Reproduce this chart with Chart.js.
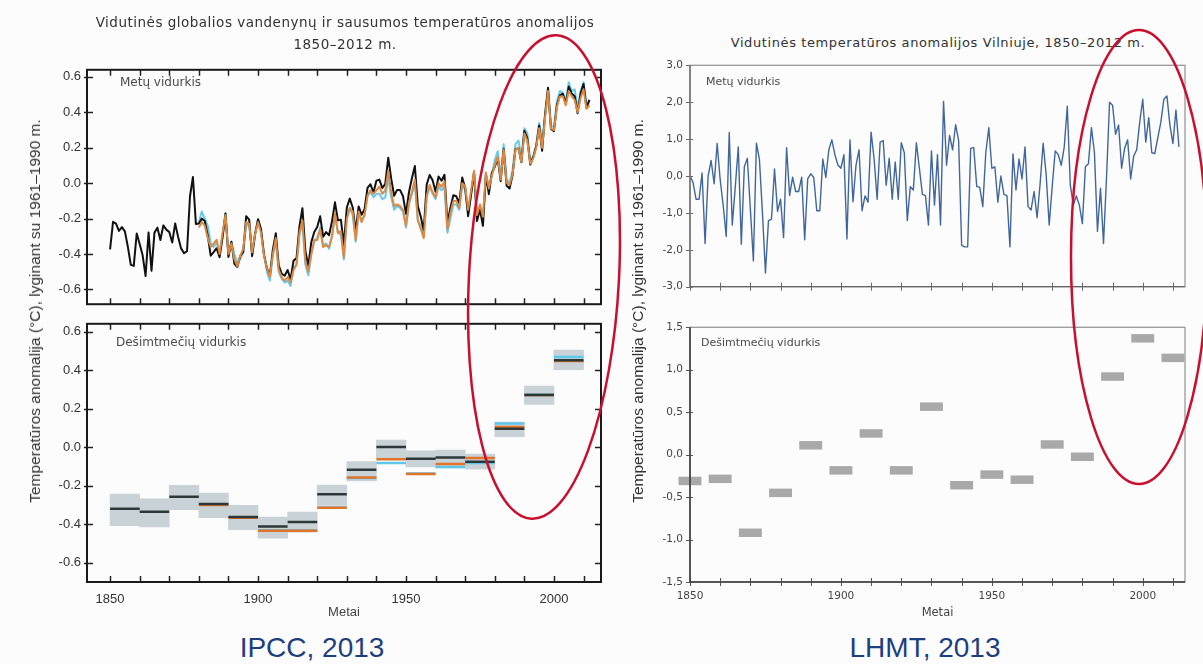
<!DOCTYPE html>
<html><head><meta charset="utf-8">
<script src="https://cdn.jsdelivr.net/npm/chart.js@4.4.0/dist/chart.umd.min.js"></script>
<style>
html,body{margin:0;padding:0;background:#fcfcfc;}
#wrap{position:relative;width:1203px;height:664px;overflow:hidden;background:#fcfcfc;}
canvas{position:absolute;}
.t{position:absolute;white-space:nowrap;}
.ttl{font-family:"DejaVu Sans",sans-serif;color:#333;text-align:center;}
.lab{font-family:"DejaVu Sans",sans-serif;color:#4a4a4a;}
.ylab{font-family:"Liberation Sans",Arial,sans-serif;font-size:15.5px;color:#333;transform:translate(-50%,-50%) rotate(-90deg);}
.cap{font-family:"Liberation Sans",Arial,sans-serif;font-size:28px;color:#1e3f7e;text-align:center;width:400px;line-height:36px;}
</style></head><body><div id="wrap">
<canvas id="lt" width="620" height="262" style="left:0;top:56px;width:620px;height:262px"></canvas>
<canvas id="lb" width="620" height="312" style="left:0;top:310px;width:620px;height:312px"></canvas>
<canvas id="rt" width="563" height="248" style="left:640px;top:52px;width:563px;height:248px"></canvas>
<canvas id="rb" width="563" height="308" style="left:640px;top:314px;width:563px;height:308px"></canvas>

<div class="t ttl" style="left:0;top:11px;width:690px;font-size:13.5px;letter-spacing:0.5px;line-height:22px;">Vidutinės globalios vandenynų ir sausumos temperatūros anomalijos<br>1850–2012 m.</div>
<div class="t ttl" style="left:700px;top:34px;width:476px;font-size:13px;letter-spacing:0.6px;line-height:17px;">Vidutinės temperatūros anomalijos Vilniuje, 1850–2012 m.</div>
<div class="t lab" style="left:120px;top:75px;font-size:12px;">Metų vidurkis</div>
<div class="t lab" style="left:116px;top:335px;font-size:12px;">Dešimtmečių vidurkis</div>
<div class="t lab" style="left:706px;top:75px;font-size:11px;">Metų vidurkis</div>
<div class="t lab" style="left:701px;top:336px;font-size:11px;">Dešimtmečių vidurkis</div>
<div class="t ylab" style="left:35px;top:311px;">Temperatūros anomalija (°C), lyginant su 1961–1990 m.</div>
<div class="t ylab" style="left:638px;top:311px;">Temperatūros anomalija (°C), lyginant su 1961–1990 m.</div>
<div class="t cap" style="left:112px;top:630px;">IPCC, 2013</div>
<div class="t cap" style="left:725px;top:630px;">LHMT, 2013</div>

<svg style="position:absolute;left:0;top:0" width="1203" height="664">
<ellipse cx="544" cy="277" rx="75" ry="242" transform="rotate(3 544 277)" fill="none" stroke="#c8102e" stroke-width="2.5"/>
<ellipse cx="1139" cy="257" rx="68" ry="227" fill="none" stroke="#c8102e" stroke-width="2.5"/>
</svg>
</div>
<script>
// ---------- DATA ----------
const globalStartYear = 1850;
const hadcrutAnnual = [
-0.373,-0.218,-0.228,-0.269,-0.248,-0.272,-0.358,-0.461,-0.467,-0.284,
-0.343,-0.407,-0.524,-0.278,-0.494,-0.279,-0.251,-0.321,-0.238,-0.262,
-0.276,-0.335,-0.227,-0.304,-0.368,-0.395,-0.384,-0.075,0.035,-0.230,
-0.227,-0.200,-0.213,-0.296,-0.409,-0.389,-0.367,-0.418,-0.307,-0.171,
-0.416,-0.330,-0.455,-0.473,-0.410,-0.390,-0.186,-0.206,-0.412,-0.289,
-0.203,-0.259,-0.402,-0.479,-0.520,-0.377,-0.283,-0.465,-0.511,-0.522,
-0.490,-0.544,-0.437,-0.424,-0.244,-0.141,-0.383,-0.468,-0.333,-0.275,
-0.247,-0.187,-0.302,-0.276,-0.294,-0.215,-0.108,-0.210,-0.206,-0.350,
-0.137,-0.087,-0.137,-0.273,-0.131,-0.178,-0.147,-0.026,-0.006,-0.052,
0.014,0.020,-0.027,-0.004,0.144,0.025,-0.071,-0.038,-0.039,-0.074,
-0.173,-0.052,0.028,0.097,-0.129,-0.190,-0.267,-0.007,0.046,0.017,
-0.049,0.038,0.014,0.048,-0.223,-0.140,-0.068,-0.074,-0.113,0.032,
-0.027,-0.186,-0.065,0.062,-0.214,-0.149,-0.241,0.047,-0.062,0.057,
0.092,0.140,0.011,0.194,-0.014,-0.030,0.045,0.192,0.198,0.118,
0.296,0.254,0.105,0.148,0.208,0.325,0.183,0.390,0.539,0.306,
0.294,0.441,0.496,0.505,0.447,0.545,0.506,0.491,0.395,0.506,
0.560,0.425,0.470];
const otherStartYear = 1880;
const mlostAnnual = [
-0.25,-0.22,-0.24,-0.31,-0.36,-0.34,-0.32,-0.40,-0.28,-0.18,
-0.40,-0.34,-0.43,-0.47,-0.41,-0.37,-0.22,-0.23,-0.39,-0.29,
-0.22,-0.28,-0.41,-0.48,-0.53,-0.40,-0.31,-0.49,-0.53,-0.55,
-0.53,-0.56,-0.49,-0.46,-0.28,-0.21,-0.44,-0.50,-0.40,-0.32,
-0.32,-0.26,-0.36,-0.35,-0.36,-0.30,-0.17,-0.28,-0.27,-0.42,
-0.20,-0.14,-0.16,-0.32,-0.16,-0.22,-0.18,-0.07,-0.04,-0.06,
-0.04,-0.02,-0.06,-0.04,0.07,-0.05,-0.13,-0.12,-0.13,-0.15,
-0.24,-0.11,-0.05,0.02,-0.21,-0.26,-0.31,-0.07,-0.01,-0.05,
-0.08,0.00,-0.02,0.01,-0.26,-0.17,-0.10,-0.10,-0.14,0.00,
-0.02,-0.15,-0.04,0.07,-0.18,-0.12,-0.19,0.06,-0.03,0.04,
0.10,0.15,0.02,0.19,0.00,-0.01,0.05,0.19,0.20,0.12,
0.28,0.24,0.11,0.14,0.20,0.31,0.20,0.37,0.52,0.31,
0.30,0.43,0.49,0.49,0.44,0.52,0.49,0.47,0.40,0.48,
0.53,0.42,0.44];
const gissAnnual = [
-0.22,-0.16,-0.20,-0.24,-0.34,-0.36,-0.33,-0.40,-0.30,-0.17,
-0.41,-0.33,-0.40,-0.45,-0.43,-0.38,-0.24,-0.23,-0.40,-0.28,
-0.21,-0.27,-0.40,-0.50,-0.55,-0.41,-0.33,-0.50,-0.54,-0.56,
-0.55,-0.58,-0.48,-0.46,-0.29,-0.23,-0.46,-0.52,-0.40,-0.33,
-0.31,-0.25,-0.35,-0.34,-0.37,-0.30,-0.18,-0.28,-0.29,-0.43,
-0.20,-0.14,-0.18,-0.33,-0.17,-0.21,-0.18,-0.07,-0.05,-0.08,
-0.06,-0.06,-0.09,-0.08,0.03,-0.08,-0.15,-0.13,-0.14,-0.16,
-0.25,-0.12,-0.06,0.00,-0.21,-0.24,-0.30,-0.08,-0.02,-0.06,
-0.09,-0.02,-0.04,-0.02,-0.28,-0.20,-0.12,-0.12,-0.15,-0.01,
-0.04,-0.16,-0.06,0.06,-0.19,-0.13,-0.20,0.05,-0.02,0.05,
0.13,0.18,0.03,0.22,0.02,0.00,0.07,0.22,0.24,0.15,
0.31,0.28,0.13,0.15,0.21,0.34,0.24,0.38,0.52,0.32,
0.32,0.46,0.52,0.51,0.46,0.57,0.52,0.53,0.42,0.52,
0.57,0.44,0.47];

const decadeStarts = [1850,1860,1870,1880,1890,1900,1910,1920,1930,1940,1950,1960,1970,1980,1990,2000];
const decHadcrut = [-0.320,-0.336,-0.258,-0.295,-0.363,-0.412,-0.388,-0.244,-0.117,0.000,-0.061,-0.054,-0.076,0.095,0.271,0.451];
const decMlost   = [null,null,null,-0.300,-0.366,-0.434,-0.434,-0.315,-0.158,-0.063,-0.139,-0.087,-0.056,0.104,0.270,0.447];
const decGiss    = [null,null,null,-0.298,-0.365,-0.432,-0.432,-0.313,-0.160,-0.083,-0.137,-0.103,-0.082,0.122,0.273,0.468];
const decLow     = [-0.408,-0.414,-0.324,-0.366,-0.429,-0.473,-0.442,-0.302,-0.176,-0.061,-0.103,-0.108,-0.115,0.054,0.222,0.402];
const decHigh    = [-0.244,-0.268,-0.198,-0.239,-0.302,-0.363,-0.337,-0.197,-0.075,0.037,-0.019,-0.015,-0.036,0.130,0.317,0.503];

const vilniusStartYear = 1850;
const vilniusAnnual = [
0.0,-0.17,-0.63,-0.63,0.08,-1.83,0.0,0.42,-0.21,0.88,
-0.1,-0.8,-1.64,1.18,-1.33,-0.3,0.79,-1.85,0.25,0.48,
-0.9,-2.3,0.89,0.45,-1.0,-2.63,-1.21,-1.17,0.19,-0.96,
-0.63,-1.67,0.77,-0.53,-0.03,-0.42,-0.42,-0.03,-1.73,-0.08,
0.06,-0.04,-0.94,-0.94,0.46,-0.04,0.71,0.98,0.58,0.3,
0.21,0.58,-1.71,0.98,-0.7,0.29,0.71,-0.94,-0.54,-0.71,
1.19,0.46,-0.63,0.92,0.96,-0.25,0.48,-0.63,0.38,-0.63,
0.9,0.63,-1.21,-0.29,-0.38,0.9,0.21,-0.5,-0.53,-1.33,
0.68,-0.79,0.58,-1.33,2.02,0.29,1.1,0.71,1.39,0.96,
-1.88,-1.92,-1.92,0.75,0.77,-0.28,-0.31,-0.83,0.63,1.31,
0.21,0.25,-0.71,0.0,-0.5,-0.53,-1.92,0.6,-0.38,0.46,
-0.08,0.79,-0.83,-0.92,-0.42,-1.13,-0.21,0.89,0.04,-1.33,
-0.29,0.68,0.58,0.29,0.79,1.89,-0.25,-0.79,-0.54,-0.79,
-1.29,0.25,0.33,1.31,0.63,-1.5,-0.33,-1.83,-0.04,2.0,
1.92,1.13,1.38,0.21,0.75,0.98,-0.08,0.54,0.71,1.46,
2.08,0.92,1.58,0.63,0.61,1.04,1.46,2.08,2.17,1.38,
0.88,1.79,0.79];
const vilniusDecadeYears = [1850,1860,1870,1880,1890,1900,1910,1920,1930,1940,1950,1960,1970,1980,1990,2000,2010];
const vilniusDecadal = [-0.31,-0.285,-0.92,-0.45,0.11,-0.185,0.25,-0.185,0.565,-0.36,-0.235,-0.295,0.12,-0.025,0.92,1.37,1.14];

const leftYTicks = [-0.6,-0.4,-0.2,0,0.2,0.4,0.6];
const rightTopYTicks = [-3,-2,-1,0,1,2,3];
const rightBottomYTicks = [-1.5,-1,-0.5,0,0.5,1,1.5];
const xLabelTicks = [1850,1900,1950,2000];
const xMinorTicks = [1850,1860,1870,1880,1890,1900,1910,1920,1930,1940,1950,1960,1970,1980,1990,2000,2010];

// ---------- HELPERS ----------
const series = (start, vals) => vals.map((v, i) => ({x: start + i, y: v}));
function decadeSegments(starts, vals) {
  const out = [];
  starts.forEach((d, i) => {
    if (vals[i] === null) return;
    out.push({x: d, y: vals[i]}, {x: d + 10, y: vals[i]}, {x: d + 10, y: null});
  });
  return out;
}
const BAR_HALF = 0.05;

function framePlugin(cfg) {
  return {
    id: 'frame',
    afterDraw(chart) {
      const {ctx, chartArea: a, scales} = chart;
      const x = scales.x, y = scales.y;
      ctx.save();
      ctx.strokeStyle = cfg.tickColor; ctx.lineWidth = cfg.tickWidth;
      ctx.beginPath();
      const s = cfg.sides;
      for (const v of xMinorTicks) {
        const px = Math.round(x.getPixelForValue(v)) + 0.5;
        if (s.top) { ctx.moveTo(px, a.top - s.top[1]); ctx.lineTo(px, a.top + s.top[0]); }
        if (s.bottom) { ctx.moveTo(px, a.bottom + s.bottom[1]); ctx.lineTo(px, a.bottom - s.bottom[0]); }
      }
      for (const v of cfg.yTicks) {
        const py = Math.round(y.getPixelForValue(v)) + 0.5;
        if (s.left) { ctx.moveTo(a.left - s.left[1], py); ctx.lineTo(a.left + s.left[0], py); }
        if (s.right) { ctx.moveTo(a.right + s.right[1], py); ctx.lineTo(a.right - s.right[0], py); }
      }
      ctx.stroke();
      ctx.strokeStyle = cfg.frameColor; ctx.lineWidth = cfg.frameWidth;
      ctx.strokeRect(a.left, a.top, a.right - a.left, a.bottom - a.top);
      if (cfg.axisColor) {
        ctx.strokeStyle = cfg.axisColor; ctx.lineWidth = cfg.axisWidth;
        ctx.beginPath();
        ctx.moveTo(a.left, a.top); ctx.lineTo(a.left, a.bottom); ctx.lineTo(a.right, a.bottom);
        ctx.stroke();
      }
      ctx.restore();
    }
  };
}

function yScale(ticks, min, max, width, fmt, font, color, pad) {
  return {
    type: 'linear', min, max, position: 'left',
    afterBuildTicks: sc => { sc.ticks = ticks.map(v => ({value: v})); },
    afterFit: sc => { sc.width = width; },
    grid: {display: false, drawTicks: false}, border: {display: false},
    ticks: {callback: fmt, font, color, padding: pad, autoSkip: false}
  };
}
function xScale(min, max, show, font, color, titleFont, pad) {
  const sc = {
    type: 'linear', min, max, offset: false, display: show,
    afterBuildTicks: s => { s.ticks = xLabelTicks.map(v => ({value: v})); },
    grid: {display: false, offset: false, drawTicks: false}, border: {display: false},
    ticks: {font, color, padding: pad, maxRotation: 0, autoSkip: false, callback: v => String(v)}
  };
  if (show) {
    sc.afterFit = s => { s.height = 40; };
    sc.title = {display: true, text: 'Metai', font: titleFont, color: '#444', padding: {top: 0, bottom: 2}};
  }
  return sc;
}
const common = {
  responsive: false, animation: false, events: [],
  plugins: {legend: {display: false}, tooltip: {enabled: false}},
  elements: {point: {radius: 0}, line: {tension: 0, borderJoinStyle: 'round'}}
};
const fmtDot = v => v.toFixed(1);
const fmtComma = v => v.toFixed(1).replace('.', ',');
const fontL = {family: 'Liberation Sans', size: 13};
const fontR = {family: 'DejaVu Sans', size: 10.5};
const LXMIN = 1842.2, LXMAX = 2015.9;

// ---------- LEFT TOP ----------
new Chart(document.getElementById('lt'), {
  type: 'line',
  data: {datasets: [
    {data: series(otherStartYear, mlostAnnual), borderColor: '#dc8a43', borderWidth: 2, order: 1},
    {data: series(globalStartYear, hadcrutAnnual), borderColor: '#111111', borderWidth: 2, order: 2},
    {data: series(otherStartYear, gissAnnual), borderColor: '#66c9ec', borderWidth: 2, order: 3}
  ]},
  options: Object.assign({}, common, {
    layout: {padding: {left: 0, right: 19, top: 8, bottom: 0}},
    scales: {x: xScale(LXMIN, LXMAX, false, fontL, '#333', null, 10),
             y: yScale(leftYTicks, -0.683, 0.64, 87, fmtDot, fontL, '#333', 6)}
  }),
  plugins: [framePlugin({tickColor: '#222', tickWidth: 1.5, frameColor: '#1a1a1a', frameWidth: 2,
    yTicks: leftYTicks, sides: {left: [6, 3], right: [6, 0], top: [6, 0], bottom: [6, 0]}})]
});

// ---------- LEFT BOTTOM ----------
new Chart(document.getElementById('lb'), {
  type: 'line',
  data: {datasets: [
    {data: decadeSegments(decadeStarts, decHadcrut), borderColor: '#2c3838', borderWidth: 2.5, spanGaps: false, order: 1},
    {data: decadeSegments(decadeStarts, decMlost), borderColor: '#e2742a', borderWidth: 2.5, spanGaps: false, order: 2},
    {data: decadeSegments(decadeStarts, decGiss), borderColor: '#5fc6ec', borderWidth: 2.5, spanGaps: false, order: 3},
    {type: 'bar', data: decadeStarts.map((d, i) => ({x: d + 5, y: [decLow[i], decHigh[i]]})),
     backgroundColor: '#c9d3d7', borderWidth: 0, categoryPercentage: 1, barPercentage: 1, grouped: false, order: 4}
  ]},
  options: Object.assign({}, common, {
    layout: {padding: {left: 0, right: 19, top: 8, bottom: 0}},
    scales: {x: xScale(LXMIN, LXMAX, true, fontL, '#333', {family: 'Liberation Sans', size: 13}, 10),
             y: yScale(leftYTicks, -0.70, 0.64, 87, fmtDot, fontL, '#333', 6)}
  }),
  plugins: [framePlugin({tickColor: '#222', tickWidth: 1.5, frameColor: '#1a1a1a', frameWidth: 2,
    yTicks: leftYTicks, sides: {left: [6, 3], right: [6, 0], top: [6, 0], bottom: [6, 0]}})]
});

// ---------- RIGHT TOP ----------
new Chart(document.getElementById('rt'), {
  type: 'line',
  data: {datasets: [
    {data: series(vilniusStartYear, vilniusAnnual), borderColor: '#41669c', borderWidth: 1.4}
  ]},
  options: Object.assign({}, common, {
    layout: {padding: {left: 0, right: 18, top: 8, bottom: 0}},
    scales: {x: xScale(1850, 2014, false, fontR, '#444', null, 8),
             y: yScale(rightTopYTicks, -3, 3, 50, fmtComma, fontR, '#444', 7)}
  }),
  plugins: [framePlugin({tickColor: '#666', tickWidth: 1, frameColor: '#9a9a9a', frameWidth: 1.3,
    axisColor: '#666', axisWidth: 1.3,
    yTicks: rightTopYTicks, sides: {left: [3, 4], bottom: [4, 4]}})]
});

// ---------- RIGHT BOTTOM ----------
new Chart(document.getElementById('rb'), {
  type: 'bar',
  data: {datasets: [
    {data: vilniusDecadeYears.map((d, i) => ({x: d, y: [vilniusDecadal[i] - BAR_HALF, vilniusDecadal[i] + BAR_HALF]})),
     backgroundColor: '#a9a9a9', borderWidth: 0, categoryPercentage: 1, barPercentage: 0.76, clip: false}
  ]},
  options: Object.assign({}, common, {
    layout: {padding: {left: 0, right: 18, top: 8, bottom: 0}},
    scales: {x: xScale(1850, 2014, true, fontR, '#444', {family: 'DejaVu Sans', size: 11.5}, 8),
             y: yScale(rightBottomYTicks, -1.5, 1.5, 50, fmtComma, fontR, '#444', 7)}
  }),
  plugins: [framePlugin({tickColor: '#555', tickWidth: 1, frameColor: '#9a9a9a', frameWidth: 1.3,
    axisColor: '#333', axisWidth: 1.5,
    yTicks: rightBottomYTicks, sides: {left: [3, 4], bottom: [4, 4]}})]
});
</script>
</body></html>
